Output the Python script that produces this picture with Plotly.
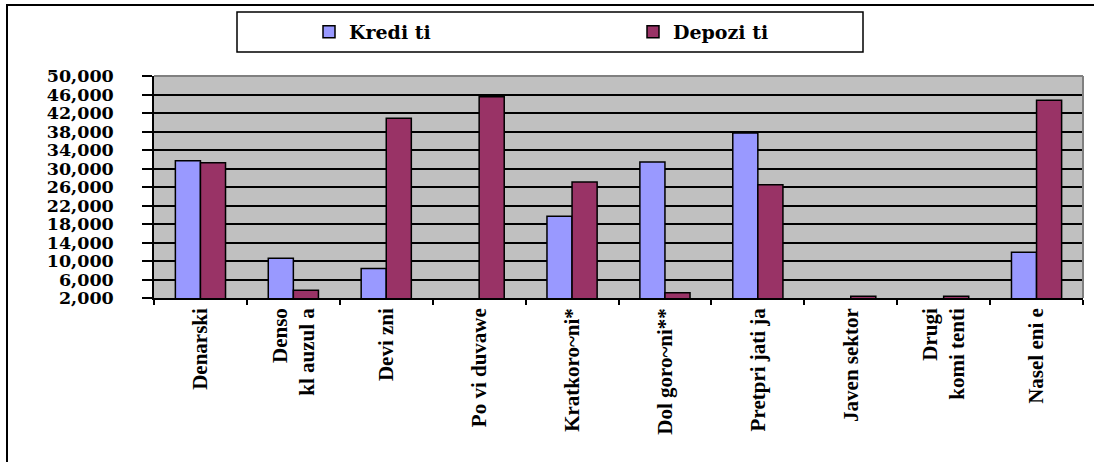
import plotly.graph_objects as go

categories = ["Denarski", "Denso<br>kl auzul a", "Devi zni", "Po vi duvawe", "Kratkoro~ni*",
              "Dol goro~ni**", "Pretpri jati ja", "Javen sektor", "Drugi<br>komi tenti", "Nasel eni e"]
krediti = [31700, 10600, 8400, None, 19700, 31400, 37700, None, None, 11900]
depoziti = [31250, 3700, 40850, 45500, 27100, 3150, 26500, 2400, 2400, 44750]
series_names = ["Kredi ti", "Depozi ti"]
y_ticks = list(range(2000, 50001, 4000))

W, H = 1094, 462
L, R, T, B = 154, 11, 76, 164
pw, ph = W - L - R, H - T - B

def px_x(x):
    return (x - L) / pw

def px_y(y):
    return (H - B - y) / ph

fig = go.Figure()
fig.add_trace(go.Bar(name=series_names[0], x=categories, y=krediti,
                     marker=dict(color="#9999FF", line=dict(color="black", width=1.5))))
fig.add_trace(go.Bar(name=series_names[1], x=categories, y=depoziti,
                     marker=dict(color="#993366", line=dict(color="black", width=1.5))))

serif_b = "DejaVu Serif"
fig.update_layout(
    width=W, height=H, autosize=False,
    margin=dict(l=L, r=R, t=T, b=B),
    paper_bgcolor="white", plot_bgcolor="#C0C0C0",
    barmode="group", bargap=0.46, bargroupgap=0,
    showlegend=True,
    legend=dict(orientation="h", x=px_x(309), y=px_y(32), xanchor="left", yanchor="middle",
                font=dict(family=serif_b, size=19, color="black", weight="bold"),
                entrywidth=279, entrywidthmode="pixels",
                bgcolor="rgba(0,0,0,0)", borderwidth=0),
    xaxis=dict(type="category", tickson="boundaries", ticks="outside", ticklen=5,
               tickcolor="black", tickwidth=1.5, showline=True, linecolor="black", linewidth=1.5,
               showgrid=False, tickangle=-90, automargin=False,
               tickfont=dict(family="Liberation Serif", size=21, color="black", weight="bold")),
    yaxis=dict(range=[2000, 50000], tickmode="array", tickvals=y_ticks,
               ticktext=[f"{v:,}" for v in y_ticks], ticks="outside", ticklen=10,
               tickcolor="black", tickwidth=1.5, showline=True, linecolor="black", linewidth=1.5,
               showgrid=True, gridcolor="black", gridwidth=1.5, zeroline=False,
               ticklabelstandoff=25, automargin=False,
               tickfont=dict(family=serif_b, size=17.5, color="black", weight="bold")),
    shapes=[
        dict(type="line", xref="paper", yref="paper", x0=0, x1=1, y0=1, y1=1,
             line=dict(color="#808080", width=2)),
        dict(type="line", xref="paper", yref="paper", x0=1, x1=1, y0=0, y1=1,
             line=dict(color="#808080", width=2)),
        dict(type="rect", xref="paper", yref="paper", x0=px_x(237), x1=px_x(863),
             y0=px_y(52), y1=px_y(12), line=dict(color="black", width=1.5)),
        dict(type="rect", xref="paper", yref="paper", x0=px_x(7), x1=px_x(1110),
             y0=px_y(480), y1=px_y(5), line=dict(color="black", width=2)),
    ],
)

fig.write_html("out.html", config={"displayModeBar": False},
               post_script="document.body.style.margin='0';")
